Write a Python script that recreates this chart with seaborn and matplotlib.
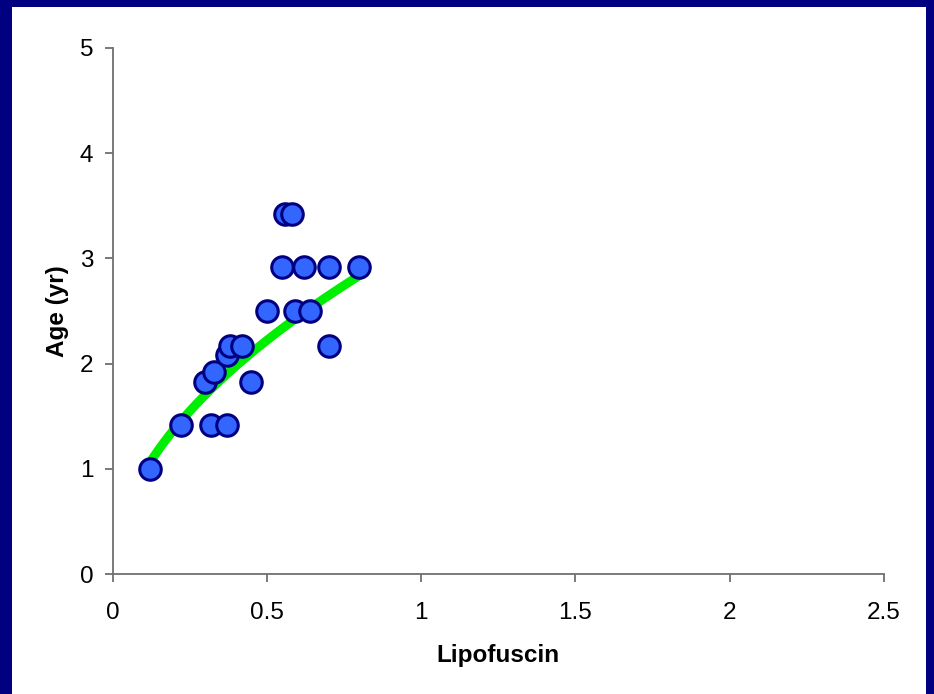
import numpy as np
import pandas as pd
import matplotlib
matplotlib.use("Agg")
import matplotlib.pyplot as plt
import seaborn as sns
from matplotlib.patches import Rectangle

lipofuscin = [0.12, 0.22, 0.32, 0.37, 0.30, 0.33, 0.45, 0.37, 0.38, 0.42, 0.70,
              0.50, 0.59, 0.64, 0.55, 0.62, 0.70, 0.80, 0.56, 0.58]
age = [1.00, 1.42, 1.42, 1.42, 1.83, 1.92, 1.83, 2.08, 2.17, 2.17, 2.17,
       2.50, 2.50, 2.50, 2.92, 2.92, 2.92, 2.92, 3.42, 3.42]
x_ticks = [0, 0.5, 1, 1.5, 2, 2.5]
y_ticks = [0, 1, 2, 3, 4, 5]

# power trendline y = a * x^b
trend_a = 3.186
trend_b = 0.52

df = pd.DataFrame({"Lipofuscin": lipofuscin, "Age": age})
xf = np.linspace(df["Lipofuscin"].min(), df["Lipofuscin"].max(), 200)
fit = pd.DataFrame({"x": xf, "y": trend_a * xf ** trend_b})

sns.set_style("white")
plt.rcParams["font.family"] = ["Liberation Sans", "DejaVu Sans"]
plt.rcParams["text.color"] = "black"
plt.rcParams["axes.labelcolor"] = "black"

fig = plt.figure(figsize=(9.34, 6.94), dpi=100)
fig.patches.append(Rectangle((0, 0), 1, 1, transform=fig.transFigure,
                             facecolor="#000080", edgecolor="none", zorder=-10))
fig.patches.append(Rectangle((12 / 934, 0), (926 - 12) / 934, (694 - 7) / 694,
                             transform=fig.transFigure, facecolor="white",
                             edgecolor="none", zorder=-9))

ax = fig.add_axes([112.7 / 934, 1 - 574.3 / 694, (883.7 - 112.7) / 934, (574.3 - 47.7) / 694])
ax.set_facecolor("none")

sns.lineplot(data=fit, x="x", y="y", ax=ax, color="#00EE00", linewidth=6.5,
             zorder=2, legend=False)
sns.scatterplot(data=df, x="Lipofuscin", y="Age", ax=ax, s=240,
                color="#3366FF", edgecolor="#000080", linewidth=2.2, zorder=3)

ax.set_xlim(0, 2.5)
ax.set_ylim(0, 5)
ax.set_xticks(x_ticks)
ax.set_xticklabels([f"{t:g}" for t in x_ticks])
ax.set_yticks(y_ticks)
ax.set_yticklabels([f"{t:g}" for t in y_ticks])

for s in ["top", "right"]:
    ax.spines[s].set_visible(False)
for s in ["left", "bottom"]:
    ax.spines[s].set_color("#707070")
    ax.spines[s].set_linewidth(1.3)

ax.tick_params(axis="both", direction="out", length=6, width=1.3, color="#707070",
               labelsize=17.5, labelcolor="black")
ax.tick_params(axis="x", bottom=True, pad=14)
ax.tick_params(axis="y", left=True, pad=8)

ax.set_xlabel("Lipofuscin", fontsize=17.5, fontweight="bold", labelpad=14)
ax.set_ylabel("Age (yr)", fontsize=17.5, fontweight="bold", labelpad=8)

fig.savefig("out.png", dpi=100)
